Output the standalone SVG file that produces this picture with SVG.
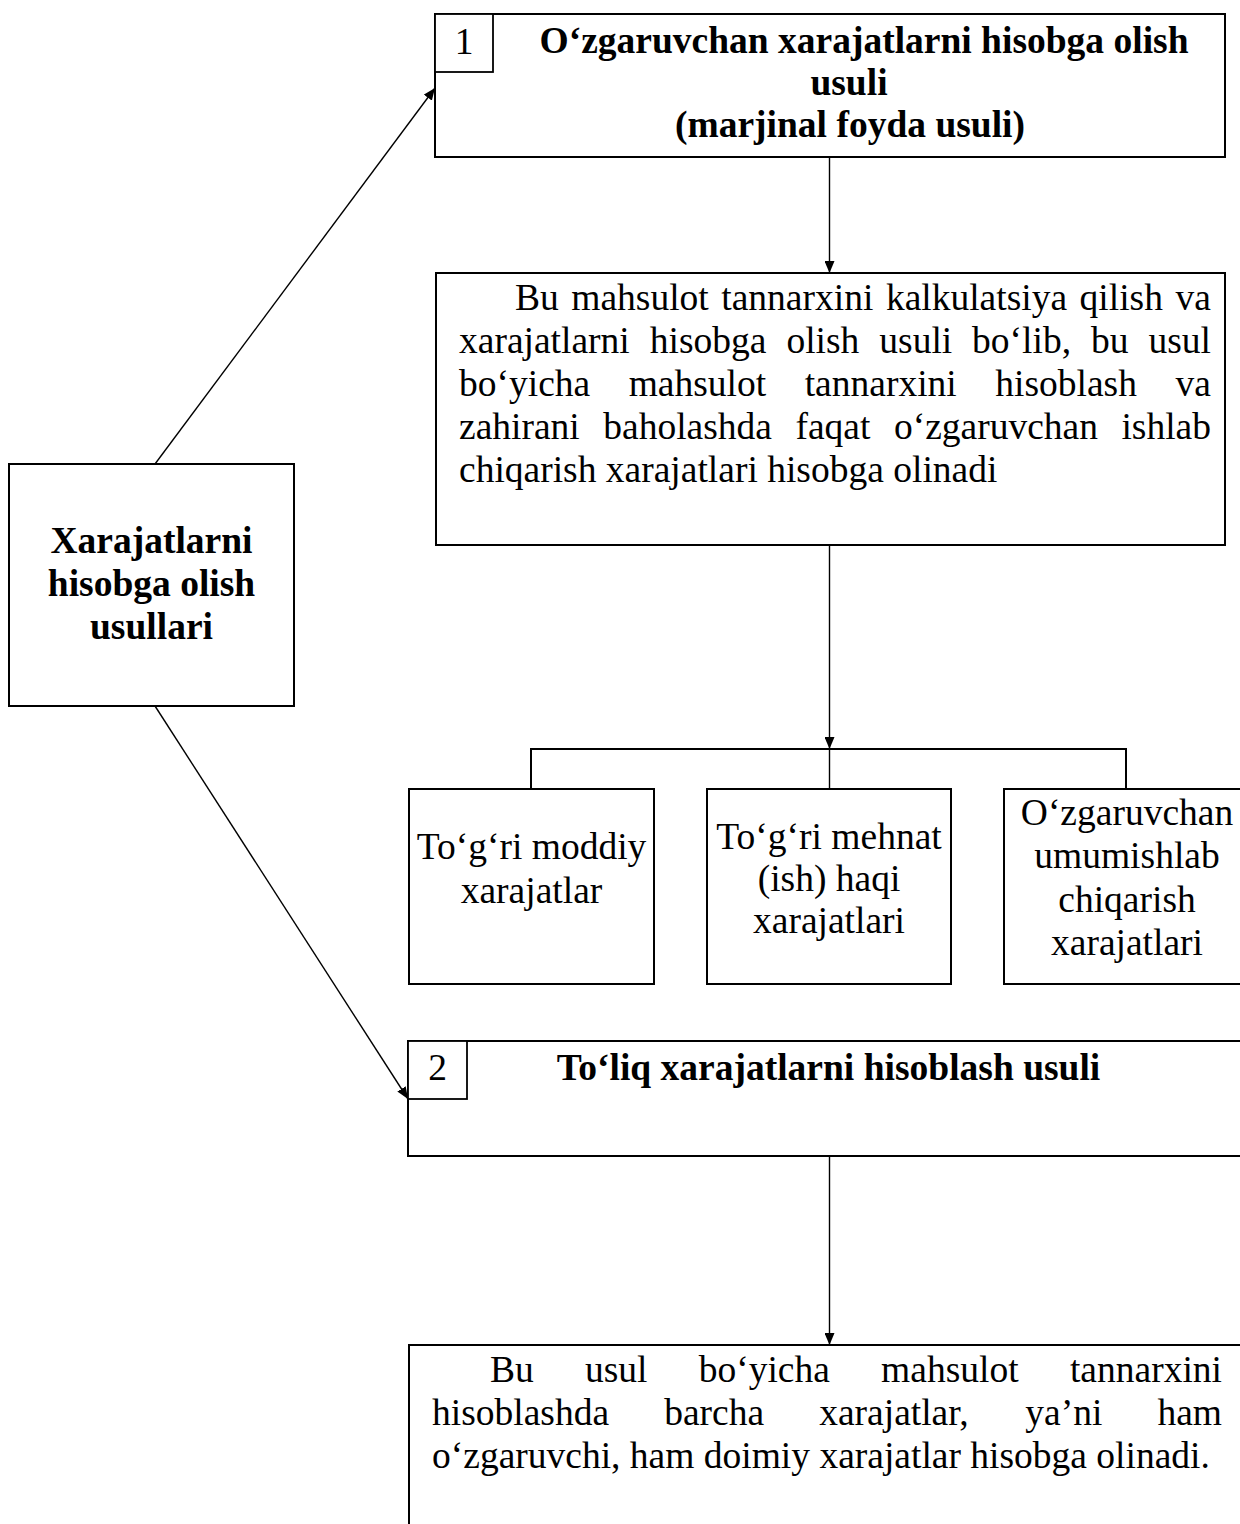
<svg xmlns="http://www.w3.org/2000/svg" width="1240" height="1524" viewBox="0 0 1240 1524">
  <defs>
    <style>
      .box { fill: #ffffff; stroke: #000000; stroke-width: 2; }
      .num { fill: #ffffff; stroke: #000000; stroke-width: 1.8; }
      .link { fill: none; stroke: #000000; stroke-width: 1.4; }
      .bracket { fill: none; stroke: #000000; stroke-width: 2; }
      text { font-family: "Liberation Serif", "Times New Roman", serif; font-size: 37.5px; fill: #000000; }
      .b { font-weight: bold; }
      .c { text-anchor: middle; }
      .e { text-anchor: end; }
    </style>
    <marker id="arrow" viewBox="0 0 12 10" refX="12" refY="5" markerWidth="12" markerHeight="10" markerUnits="userSpaceOnUse" orient="auto">
      <path d="M0,0 L12,5 L0,10 Z" fill="#000000"/>
    </marker>
  </defs>
  <rect width="1240" height="1524" fill="#ffffff"/>

  <!-- connectors -->
  <g id="connectors">
    <line class="link" x1="155" y1="464" x2="435" y2="88" marker-end="url(#arrow)"/>
    <line class="link" x1="155" y1="706" x2="408" y2="1099" marker-end="url(#arrow)"/>
    <line class="link" x1="829.5" y1="157" x2="829.5" y2="273" marker-end="url(#arrow)"/>
    <line class="link" x1="829.5" y1="545" x2="829.5" y2="749" marker-end="url(#arrow)"/>
    <polyline class="bracket" points="531,789 531,749 1126,749 1126,789"/>
    <line class="link" x1="829.5" y1="749" x2="829.5" y2="789"/>
    <line class="link" x1="829.5" y1="1156" x2="829.5" y2="1345" marker-end="url(#arrow)"/>
  </g>

  <!-- root: cost accounting methods -->
  <g id="node-methods">
    <rect class="box" x="9" y="464" width="285" height="242"/>
    <text class="b c" x="151.5" y="553">Xarajatlarni</text>
    <text class="b c" x="151.5" y="596">hisobga olish</text>
    <text class="b c" x="151.5" y="639">usullari</text>
  </g>

  <!-- method 1: variable costing -->
  <g id="node-method1">
    <rect class="box" x="435" y="14" width="790" height="143"/>
    <rect class="num" x="435" y="14" width="58" height="58"/>
    <text class="c" x="464" y="54">1</text>
    <text class="b c" x="864" y="53">O‘zgaruvchan xarajatlarni hisobga olish</text>
    <text class="b c" x="849" y="95">usuli</text>
    <text class="b c" x="850" y="137">(marjinal foyda usuli)</text>
  </g>

  <!-- method 1 description -->
  <g id="node-method1-desc">
    <rect class="box" x="436" y="273" width="789" height="272"/>
    <text y="310"><tspan x="515">Bu</tspan><tspan x="571.3">mahsulot</tspan><tspan x="721.3">tannarxini</tspan><tspan x="885.9">kalkulatsiya</tspan><tspan x="1079.6">qilish</tspan><tspan x="1211" class="e">va</tspan></text>
    <text y="353"><tspan x="459">xarajatlarni</tspan><tspan x="649.8">hisobga</tspan><tspan x="786.4">olish</tspan><tspan x="879.3">usuli</tspan><tspan x="972.1">bo‘lib,</tspan><tspan x="1091">bu</tspan><tspan x="1211" class="e">usul</tspan></text>
    <text y="396"><tspan x="459">bo‘yicha</tspan><tspan x="628.7">mahsulot</tspan><tspan x="804.7">tannarxini</tspan><tspan x="995.3">hisoblash</tspan><tspan x="1211" class="e">va</tspan></text>
    <text y="439"><tspan x="459">zahirani</tspan><tspan x="603.3">baholashda</tspan><tspan x="795.4">faqat</tspan><tspan x="893.9">o‘zgaruvchan</tspan><tspan x="1211" class="e">ishlab</tspan></text>
    <text x="459" y="482">chiqarish xarajatlari hisobga olinadi</text>
  </g>

  <!-- variable cost components -->
  <g id="node-direct-materials">
    <rect class="box" x="409" y="789" width="245" height="195"/>
    <text class="c" x="531.5" y="859">To‘g‘ri moddiy</text>
    <text class="c" x="531.5" y="903">xarajatlar</text>
  </g>
  <g id="node-direct-labour">
    <rect class="box" x="707" y="789" width="244" height="195"/>
    <text class="c" x="829" y="849">To‘g‘ri mehnat</text>
    <text class="c" x="829" y="891">(ish) haqi</text>
    <text class="c" x="829" y="933">xarajatlari</text>
  </g>
  <g id="node-variable-overhead">
    <rect class="box" x="1004" y="789" width="246" height="195"/>
    <text class="c" x="1127" y="825">O‘zgaruvchan</text>
    <text class="c" x="1127" y="868">umumishlab</text>
    <text class="c" x="1127" y="912">chiqarish</text>
    <text class="c" x="1127" y="955">xarajatlari</text>
  </g>

  <!-- method 2: absorption costing -->
  <g id="node-method2">
    <rect class="box" x="408" y="1041" width="850" height="115"/>
    <rect class="num" x="408" y="1041" width="59" height="58"/>
    <text class="c" x="437.5" y="1080">2</text>
    <text class="b c" x="828.5" y="1080">To‘liq xarajatlarni hisoblash usuli</text>
  </g>

  <!-- method 2 description -->
  <g id="node-method2-desc">
    <rect class="box" x="409" y="1345" width="850" height="250"/>
    <text y="1382"><tspan x="490">Bu</tspan><tspan x="585">usul</tspan><tspan x="698.7">bo‘yicha</tspan><tspan x="881.1">mahsulot</tspan><tspan x="1222" class="e">tannarxini</tspan></text>
    <text y="1425"><tspan x="432">hisoblashda</tspan><tspan x="664.2">barcha</tspan><tspan x="819.2">xarajatlar,</tspan><tspan x="1025.3">ya’ni</tspan><tspan x="1222" class="e">ham</tspan></text>
    <text x="432" y="1468">o‘zgaruvchi, ham doimiy xarajatlar hisobga olinadi.</text>
  </g>
</svg>
